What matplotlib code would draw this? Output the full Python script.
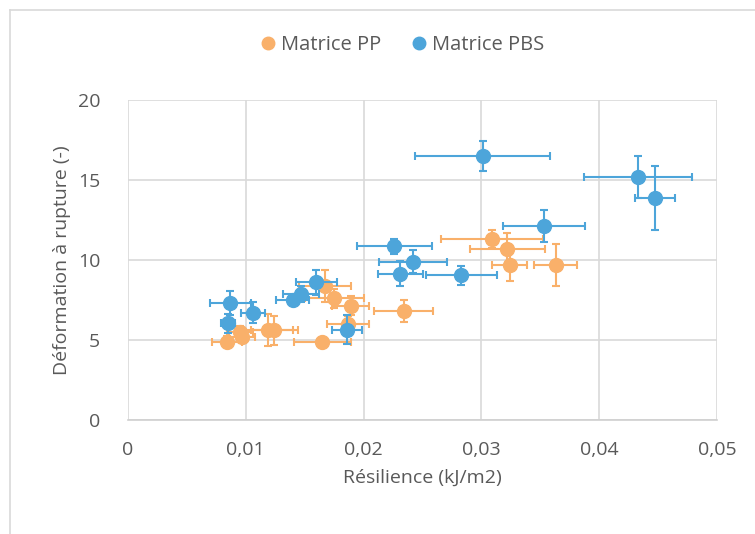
import matplotlib
matplotlib.use("Agg")
import matplotlib.pyplot as plt
from matplotlib.lines import Line2D

# Matrice PP
pp_x = [0.0084, 0.0095, 0.0097, 0.0119, 0.0124, 0.0165, 0.0167, 0.0175, 0.0189, 0.0187, 0.0234, 0.0309, 0.0322, 0.0324, 0.0363]
pp_y = [4.9, 5.5, 5.2, 5.6, 5.6, 4.85, 8.4, 7.6, 7.15, 6.0, 6.8, 11.3, 10.7, 9.7, 9.7]
pp_xerr = [0.0013, 0.0011, 0.0011, 0.0021, 0.0020, 0.0024, 0.0022, 0.0025, 0.0016, 0.0018, 0.0025, 0.0043, 0.0032, 0.0015, 0.0018]
pp_yerr = [0.35, 0.4, 0.4, 1.0, 0.9, 0.3, 1.0, 0.6, 0.6, 0.5, 0.7, 0.55, 1.0, 1.0, 1.3]

# Matrice PBS
pbs_x = [0.0087, 0.0106, 0.0085, 0.0140, 0.0147, 0.0160, 0.0186, 0.0301, 0.0353, 0.0226, 0.0242, 0.0231, 0.0283, 0.0433, 0.0447]
pbs_y = [7.3, 6.7, 6.05, 7.5, 7.9, 8.6, 5.65, 16.5, 12.1, 10.85, 9.9, 9.15, 9.05, 15.2, 13.9]
pbs_xerr = [0.0017, 0.0010, 0.0006, 0.0014, 0.0015, 0.0017, 0.0013, 0.0057, 0.0035, 0.0032, 0.0029, 0.0019, 0.0030, 0.0046, 0.0017]
pbs_yerr = [0.75, 0.65, 0.6, 0.3, 0.5, 0.8, 0.9, 0.95, 1.0, 0.45, 0.7, 0.8, 0.6, 1.3, 2.0]

x_ticks = [0, 0.01, 0.02, 0.03, 0.04, 0.05]
x_ticklabels = ["0", "0,01", "0,02", "0,03", "0,04", "0,05"]
y_ticks = [0, 5, 10, 15, 20]

c_pp = "#F9B06A"
c_pbs = "#4DA5DA"
txt = "#595959"
plt.rcParams['font.family'] = ['Open Sans', 'DejaVu Sans']

fig = plt.figure(figsize=(7.55, 5.34), dpi=100)
ax = fig.add_axes([128/755, 1-420/534, (717-128)/755, (420-100)/534])

ax.errorbar(pp_x, pp_y, xerr=pp_xerr, yerr=pp_yerr, fmt='o', color=c_pp, ms=10,
            elinewidth=1.5, capsize=3, capthick=1.5, zorder=3)
ax.errorbar(pbs_x, pbs_y, xerr=pbs_xerr, yerr=pbs_yerr, fmt='o', color=c_pbs, ms=10,
            elinewidth=1.5, capsize=3, capthick=1.5, zorder=4)

ax.set_xlim(0, 0.05)
ax.set_ylim(0, 20)
ax.set_xticks(x_ticks)
ax.set_xticklabels(x_ticklabels)
ax.set_yticks(y_ticks)
ax.grid(True, color="#D9D9D9", lw=1.2, zorder=0)
ax.set_axisbelow(True)
for s in ['top', 'right', 'left']:
    ax.spines[s].set_visible(False)
ax.spines['bottom'].set_color("#D0D0D0")
ax.spines['bottom'].set_linewidth(1.2)
ax.tick_params(length=0, colors=txt, labelsize=14)
ax.tick_params(axis='x', pad=15)
ax.tick_params(axis='y', pad=20)
ax.set_xlabel("Résilience (kJ/m2)", color=txt, fontsize=14, labelpad=7)
ax.set_ylabel("Déformation à rupture (-)", color=txt, fontsize=14, labelpad=5)

handles = [Line2D([], [], marker='o', ls='', color=c_pp, ms=9),
           Line2D([], [], marker='o', ls='', color=c_pbs, ms=9)]
fig.legend(handles, ["Matrice PP", "Matrice PBS"], loc='center', bbox_to_anchor=(0.53, 1-45/534),
           ncol=2, frameon=False, fontsize=14.5, handletextpad=0.05, columnspacing=1.3,
           labelcolor=txt, handlelength=1.2)

# chart border
fig.add_artist(Line2D([10/755, 1.0], [1-10/534, 1-10/534], color="#D9D9D9", lw=1.2))
fig.add_artist(Line2D([10/755, 10/755], [0, 1-10/534], color="#D9D9D9", lw=1.2))

fig.savefig("out.png", dpi=100)
